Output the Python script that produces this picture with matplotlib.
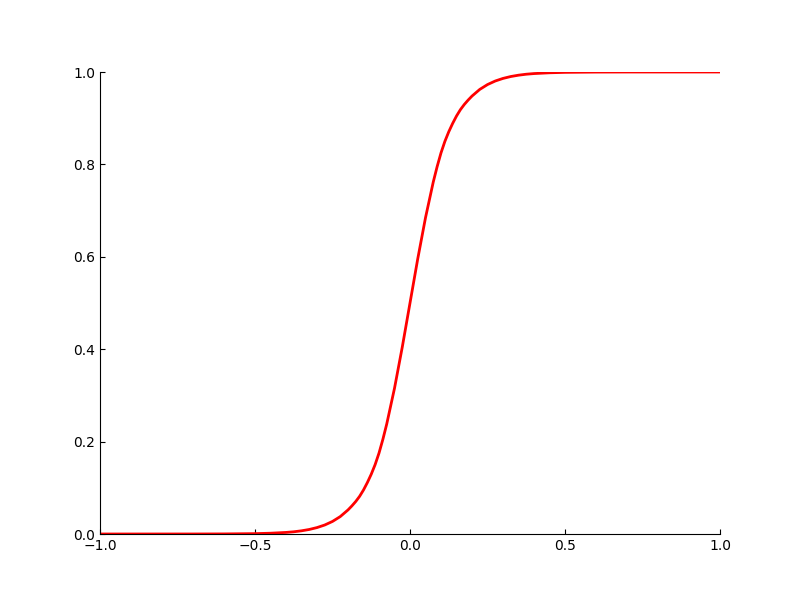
import matplotlib
matplotlib.use("Agg")
import matplotlib.pyplot as plt
from matplotlib.ticker import MultipleLocator, FuncFormatter

# values
x_vals = [-1.0, -0.7, -0.6, -0.5, -0.45, -0.4, -0.375, -0.35, -0.325, -0.3,
          -0.275, -0.25, -0.225, -0.2, -0.1875, -0.175, -0.1625, -0.15,
          -0.1375, -0.125, -0.1125, -0.1, -0.0875, -0.075, -0.05, -0.025,
          0.0, 0.025, 0.05, 0.075, 0.0875, 0.1, 0.1125, 0.125, 0.1375, 0.15,
          0.1625, 0.175, 0.1875, 0.2, 0.225, 0.25, 0.275, 0.3, 0.325, 0.35,
          0.375, 0.4, 0.45, 0.5, 0.6, 0.7, 1.0]
y_vals = [0.0, 0.00005, 0.0002, 0.0008, 0.0017, 0.0034, 0.0048, 0.0069,
          0.0098, 0.0139, 0.0195, 0.0272, 0.0377, 0.0521, 0.0608, 0.0704,
          0.0816, 0.0953, 0.1114, 0.1294, 0.1502, 0.1751, 0.2049, 0.2382,
          0.3154, 0.4043, 0.5, 0.5957, 0.6846, 0.7618, 0.7951, 0.8249,
          0.8498, 0.8706, 0.8886, 0.9047, 0.9184, 0.9296, 0.9392, 0.9479,
          0.9623, 0.9728, 0.9805, 0.9861, 0.9902, 0.9931, 0.9952, 0.9966,
          0.9983, 0.9992, 0.9998, 0.99995, 1.0]

fig, ax = plt.subplots(figsize=(8, 6), dpi=100)
ax.plot(x_vals, y_vals, color="red", linewidth=2)

ax.set_xlim(-1, 1)
ax.set_ylim(0, 1)
ax.xaxis.set_major_locator(MultipleLocator(0.5))
ax.xaxis.set_major_formatter(FuncFormatter(lambda v, p: ("%.1f" % v).replace("-", "\u2212")))

ax.spines["top"].set_visible(False)
ax.spines["right"].set_visible(False)
ax.tick_params(direction="in", top=False, right=False)

fig.savefig("out.png", dpi=100)
